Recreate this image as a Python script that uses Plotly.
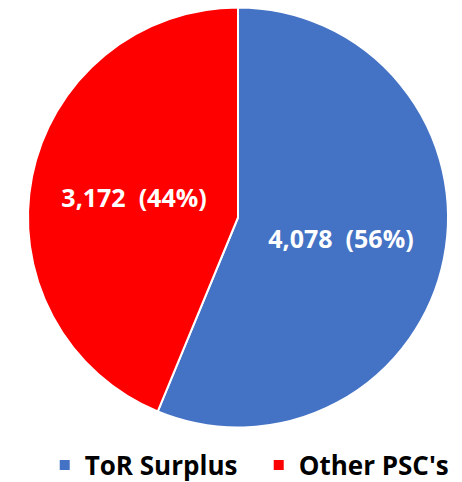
import plotly.graph_objects as go

labels = ["ToR Surplus", "Other PSC's"]
values = [4078, 3172]
colors = ["#4472C4", "#FF0000"]

fig = go.Figure(go.Pie(
    labels=labels,
    values=values,
    sort=False,
    direction="clockwise",
    rotation=0,
    marker=dict(colors=colors, line=dict(color="white", width=2)),
    texttemplate="%{value:,}  (%{percent:.0%})",
    textposition="inside",
    insidetextorientation="horizontal",
    textfont=dict(family="Open Sans", size=25, color="white", weight="bold"),
    domain=dict(x=[28/462, 448/462], y=[1-428/482, 1-7/482]),
    hoverinfo="skip",
))

fig.update_layout(
    width=462, height=482,
    margin=dict(l=0, r=0, t=0, b=0, autoexpand=False),
    paper_bgcolor="white",
    plot_bgcolor="white",
    showlegend=True,
    legend=dict(
        orientation="h",
        x=0.56, xanchor="center",
        y=1-465/482, yanchor="middle",
        font=dict(family="Open Sans", size=26, color="#000000", weight="bold"),
        itemsizing="constant",
        traceorder="normal",
        entrywidth=169,
        entrywidthmode="pixels",
    ),
)

fig.write_html("out.html", post_script="document.body.style.margin='0';",
               config={"displayModeBar": False})
